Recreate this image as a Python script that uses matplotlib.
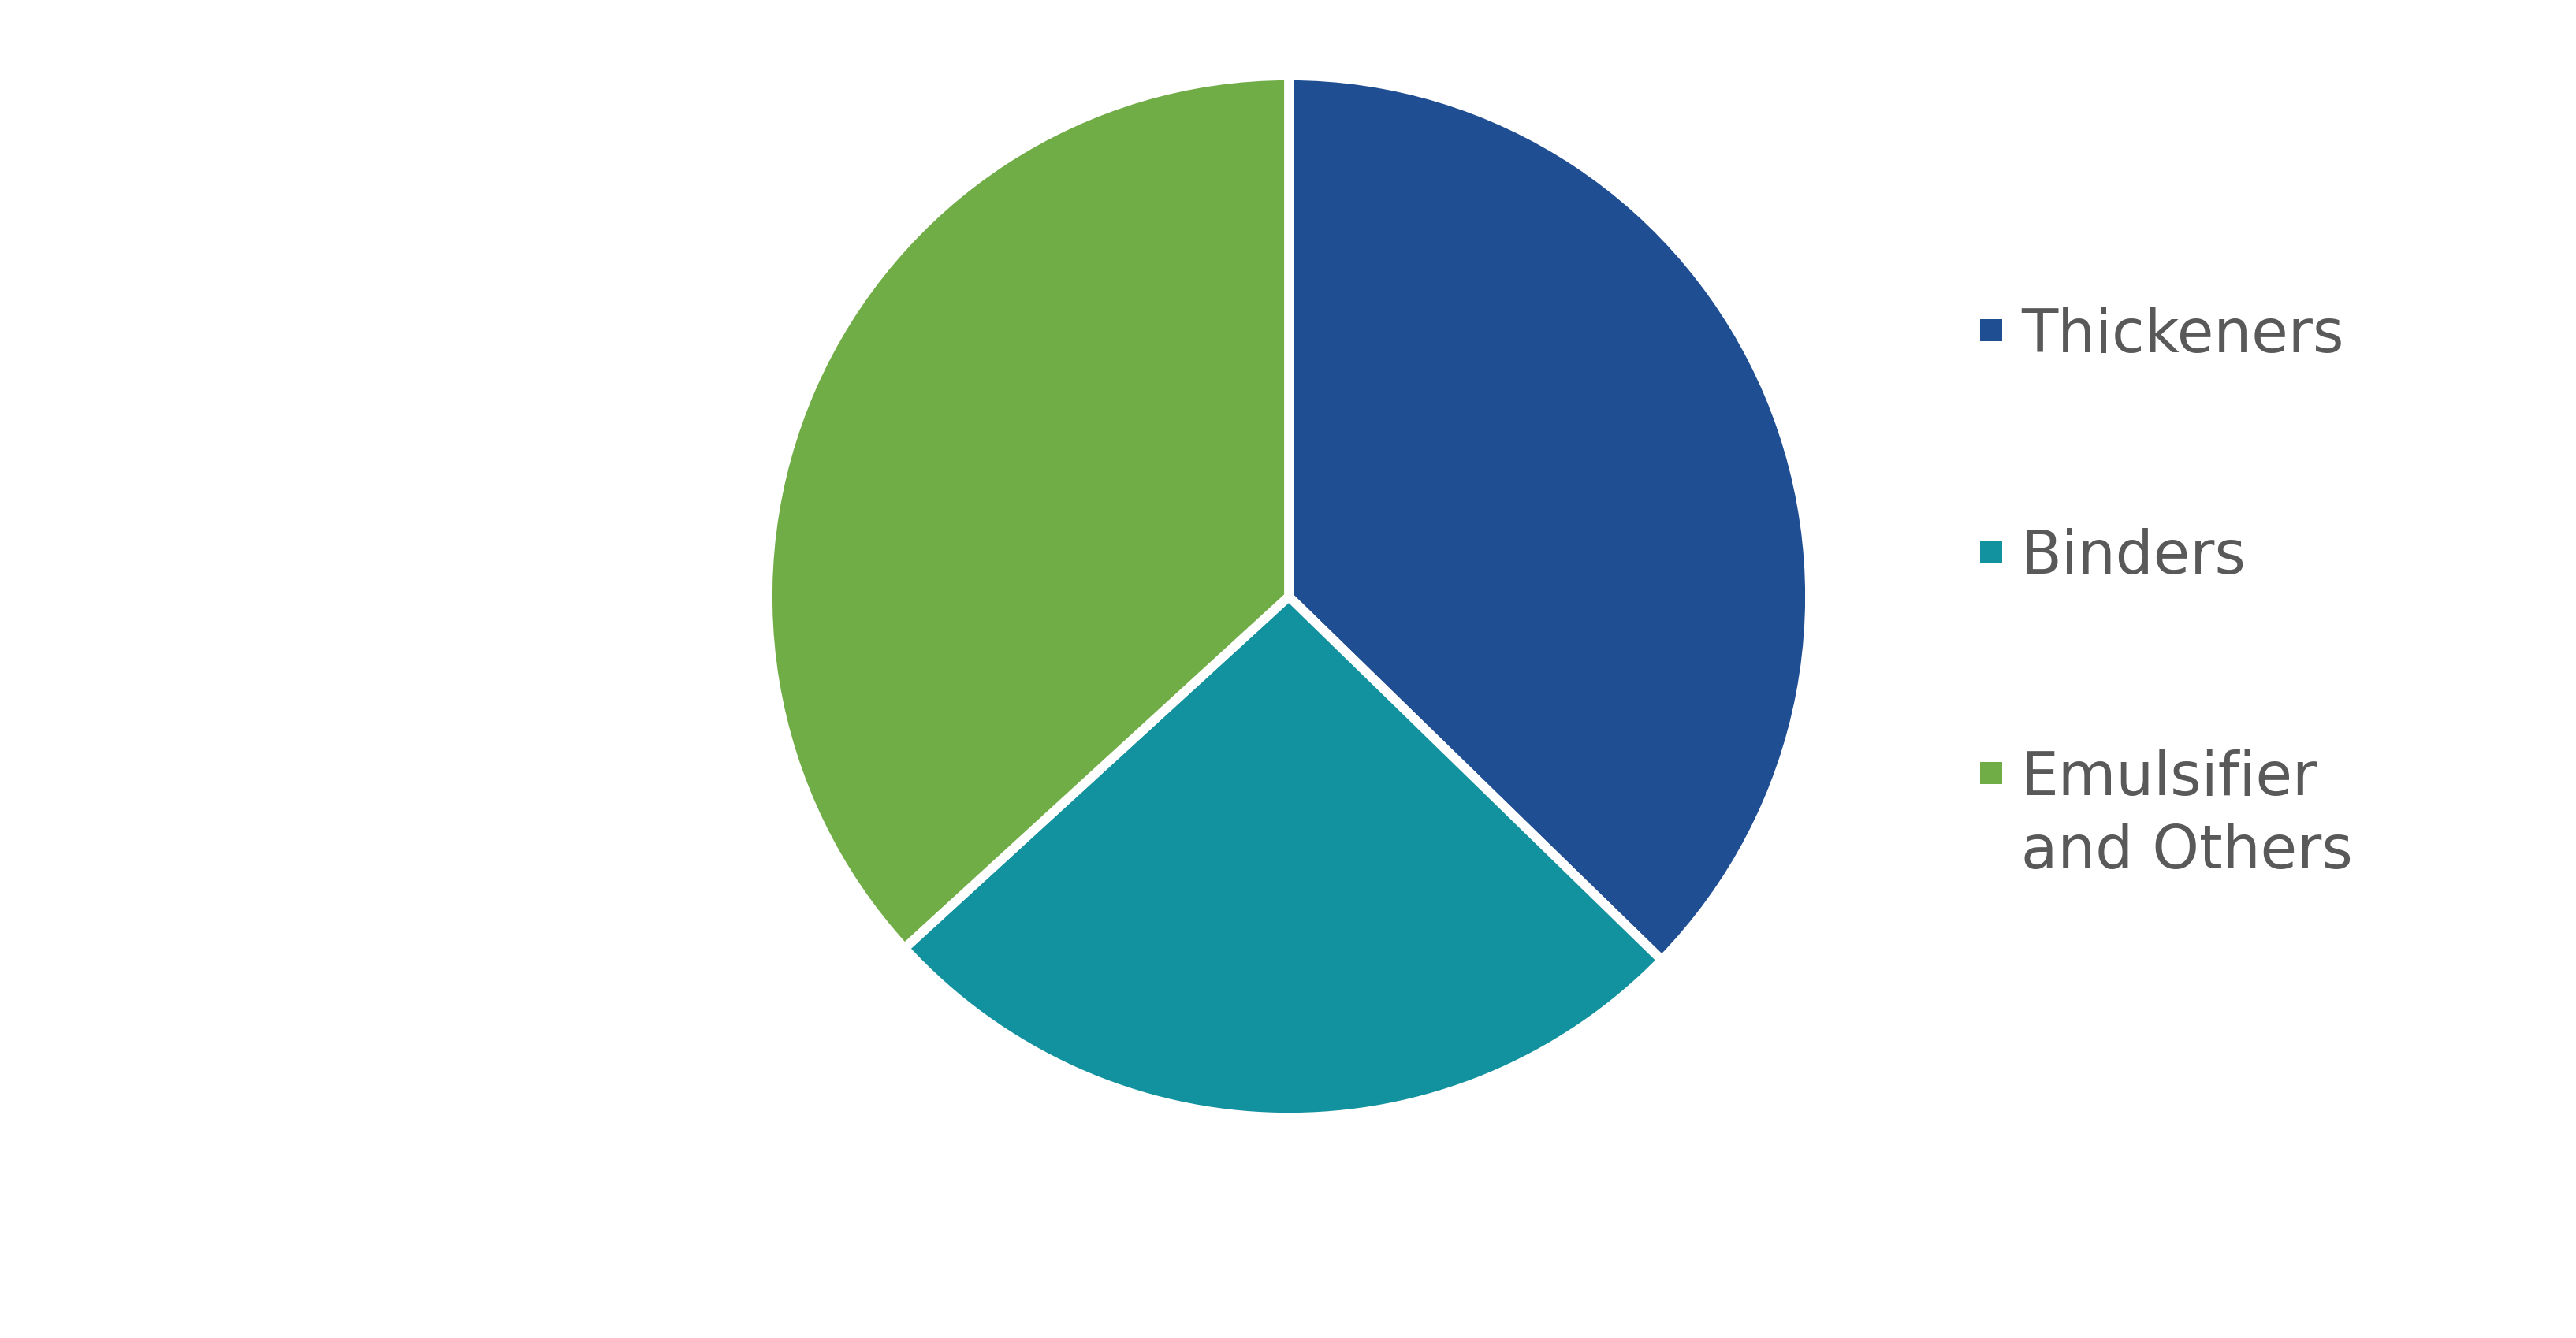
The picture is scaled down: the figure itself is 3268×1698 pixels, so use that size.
import matplotlib.pyplot as plt
from matplotlib.patches import Rectangle

labels = ["Thickeners", "Binders", "Emulsifier\nand Others"]
shares = [37.3, 25.9, 36.8]
colors = ["#1F4E93", "#12919E", "#70AD47"]

W, H = 3268, 1698
fig = plt.figure(figsize=(W / 100, H / 100), dpi=100)

# pie axes, placed in pixels
cx, cy, r = 1635, 757, 661
ax = fig.add_axes([(cx - r) / W, (H - cy - r) / H, 2 * r / W, 2 * r / H])
ax.pie(shares, colors=colors, startangle=90, counterclock=False, radius=1,
       wedgeprops=dict(edgecolor="white", linewidth=8.5))
ax.set_xlim(-1, 1)
ax.set_ylim(-1, 1)
ax.set_aspect("equal")
ax.axis("off")

# legend drawn by hand so the marker sits on the first line
lx, ly0, step = 2512, 419, 281
box = 28
line_h = 93
for i, (lab, col) in enumerate(zip(labels, colors)):
    ym = ly0 + i * step
    fig.patches.append(Rectangle((lx / W, (H - ym - box / 2) / H), box / W, box / H,
                                 transform=fig.transFigure, facecolor=col,
                                 edgecolor="none"))
    for j, line in enumerate(lab.split("\n")):
        fig.text((lx + 52) / W, (H - ym - 28 - j * line_h) / H, line,
                 fontsize=54.5, color="#595959", va="baseline", ha="left",
                 family="DejaVu Sans")

fig.savefig("out.png", dpi=100, facecolor="white")
